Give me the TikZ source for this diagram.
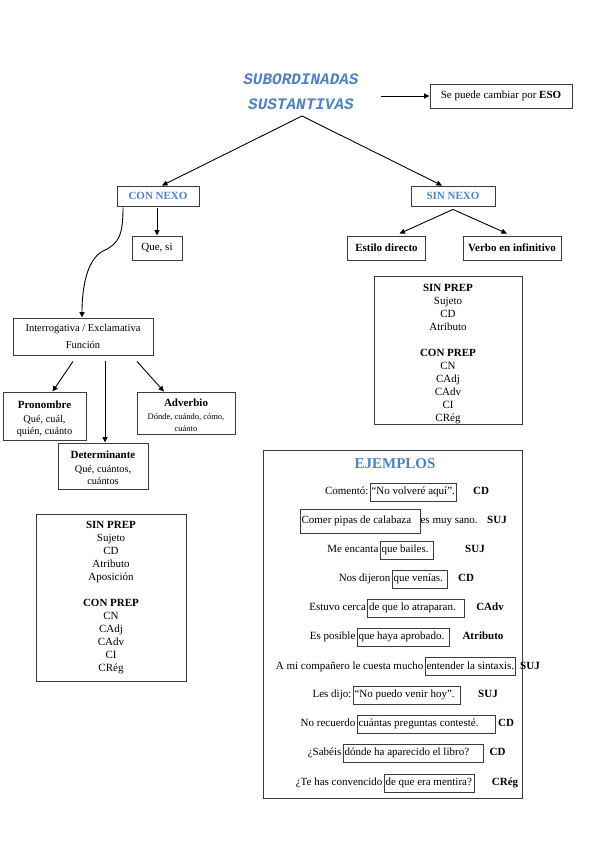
\documentclass[tikz,border=0pt]{standalone}
\usepackage{fontspec}
\setmainfont{Liberation Serif}
\newfontfamily\titlefont{Liberation Mono}
\usetikzlibrary{arrows.meta,calc}
\definecolor{tblue}{RGB}{79,129,189}
\definecolor{lgray}{RGB}{60,60,60}
\newcommand{\fA}{\fontsize{11}{14}\selectfont\bfseries}
\newcommand{\fB}{\fontsize{10.3}{12}\selectfont\mdseries}
\newcommand{\fC}{\fontsize{8.5}{10}\selectfont\mdseries}
\newcommand{\bx}[2]{\makebox[#1][l]{#2}}
\tikzset{
  box/.style={draw=lgray, line width=0.9pt, inner sep=0pt, align=center},
  arr/.style={-{Triangle[length=5.5pt,width=5pt]}, line width=0.9pt},
  txt/.style={font=\fontsize{11}{13}\selectfont},
  ex/.style={font=\fontsize{11}{12}\selectfont, inner sep=0pt},
  exbox/.style={draw=lgray, line width=0.8pt, inner xsep=1.5pt, minimum height=18pt, font=\fontsize{11}{12}\selectfont},
  lab/.style={font=\fontsize{11}{12}\selectfont\bfseries, inner sep=0pt, anchor=base}
}
\begin{document}
\begin{tikzpicture}[x=1pt,y=-1pt]
\useasboundingbox (0,0) rectangle (599,848);

% title
\node[font=\titlefont\fontsize{16}{25}\selectfont\bfseries\itshape, text=tblue, align=center, inner sep=0pt] (title) at (301,91.5) {SUBORDINADAS\\SUSTANTIVAS};
\coordinate (tb) at (302,116);
\coordinate (ta) at (381,96);

\node[box, txt, minimum width=142pt, minimum height=24pt] (eso) at (501,96) {Se puede cambiar por \textbf{ESO}};
\draw[arr] (ta) -- (eso.west);

% level 1
\node[box, txt, font=\fontsize{11}{13}\selectfont\bfseries, text=tblue, minimum width=82pt, minimum height=20pt] (cn) at (158,196) {CON NEXO};
\node[box, txt, font=\fontsize{11}{13}\selectfont\bfseries, text=tblue, minimum width=84pt, minimum height=20pt] (sn) at (453,196) {SIN NEXO};
\draw[arr] (tb) -- ([xshift=4pt]cn.north);
\draw[arr] (tb) -- ([xshift=-11pt]sn.north);

% CON NEXO branch
\node[box, txt, minimum width=50pt, minimum height=24pt] (qs) at (157,248) {Que, si};
\draw[arr] ([yshift=-2pt]qs.north |- cn.south) -- (qs.north);

\node[box, font=\fontsize{10.5}{17}\selectfont, minimum width=140pt, minimum height=37pt] (ie) at (83,336.5) {Interrogativa / Exclamativa\\Función};
\draw[arr] ([xshift=-35pt,yshift=-1pt]cn.south) .. controls (123,235) and (119,244) .. (103,251) .. controls (86,260) and (82,290) .. ([xshift=-1pt]ie.north);

\node[box, minimum width=83pt, minimum height=48pt] (pr) at (44.5,416) {};
\node[align=center, inner sep=0pt] (prt) at (44.5,418.5) {\fA Pronombre\\[2pt]\fB Qué, cuál,\\\fB quién, cuánto};
\node[box, minimum width=98pt, minimum height=42pt] (adv) at (186,413) {};
\node[align=center, inner sep=0pt] (advt) at (186,415) {\fA Adverbio\\[1.5pt]\fC Dónde, cuándo, cómo,\\\fC cuánto};
\node[box, minimum width=90pt, minimum height=46pt] (det) at (103,466) {};
\node[align=center, inner sep=0pt] (dett) at (103,467.5) {\fA Determinante\\[2pt]\fB Qué, cuántos,\\\fB cuántos};

\draw[arr] ([xshift=-10pt,yshift=-6pt]ie.south) -- ([xshift=8pt]pr.north);
\draw[arr] ([xshift=22pt,yshift=-6pt]ie.south) -- ([xshift=2pt]det.north);
\draw[arr] ([xshift=54pt,yshift=-6pt]ie.south) -- ([xshift=-22pt]adv.north);

\node[box, txt, minimum width=150pt, minimum height=167pt] (lpl) at (111,597.5) {\textbf{SIN PREP}\\Sujeto\\CD\\Atributo\\Aposición\\[12.8pt]\textbf{CON PREP}\\CN\\CAdj\\CAdv\\CI\\CRég};

% SIN NEXO branch
\node[box, txt, minimum width=78pt, minimum height=24pt] (ed) at (386.5,248) {\textbf{Estilo directo}};
\node[box, txt, minimum width=98pt, minimum height=24pt] (vi) at (512,248) {\textbf{Verbo en infinitivo}};
\draw[arr] ([yshift=-3pt]sn.south) -- ([xshift=13pt,yshift=2pt]ed.north);
\draw[arr] ([yshift=-3pt]sn.south) -- ([xshift=-5pt,yshift=2pt]vi.north);

\node[box, minimum width=148pt, minimum height=148pt] (rpl) at (448,350) {};
\node[txt, align=center, inner sep=0pt] (rplt) at (448,354) {\textbf{SIN PREP}\\Sujeto\\CD\\Atributo\\[13pt]\textbf{CON PREP}\\CN\\CAdj\\CAdv\\CI\\CRég};

% EJEMPLOS
\node[box, minimum width=259pt, minimum height=348pt] (ej) at (392.5,624) {};
\node[font=\fontsize{15}{18}\selectfont\bfseries, text=tblue, inner sep=0pt] (ejt) at (395,464) {EJEMPLOS};

% row 1
\node[exbox] (e1b) at (413,492) {\bx{83pt}{“No volveré aquí”.}};
\node[ex, anchor=base east] (e1a) at ([xshift=-1pt]e1b.base west) {Comentó:};
\node[lab] (e1l) at (481,0 |- e1b.base) {CD};
% row 2
\node[exbox, minimum height=24pt] (e2b) at (360,521) {\bx{117pt}{Comer pipas de calabaza}};
\node[ex, anchor=base west] (e2c) at (e2b.base east) {es muy sano.};
\node[lab] (e2l) at (497,0 |- e2b.base) {SUJ};
% row 3
\node[exbox] (e3b) at (406.5,550) {\bx{50pt}{que bailes.}};
\node[ex, anchor=base east] (e3a) at ([xshift=-1pt]e3b.base west) {Me encanta};
\node[lab] (e3l) at (475,0 |- e3b.base) {SUJ};
% row 4
\node[exbox] (e4b) at (419.5,579) {\bx{52pt}{que venías.}};
\node[ex, anchor=base east] (e4a) at ([xshift=-1pt]e4b.base west) {Nos dijeron};
\node[lab] (e4l) at (466,0 |- e4b.base) {CD};
% row 5
\node[exbox] (e5b) at (416,608) {\bx{94pt}{de que lo atraparan.}};
\node[ex, anchor=base east] (e5a) at ([xshift=-1pt]e5b.base west) {Estuvo cerca};
\node[lab] (e5l) at (490,0 |- e5b.base) {CAdv};
% row 6
\node[exbox] (e6b) at (403,637) {\bx{89pt}{que haya aprobado.}};
\node[ex, anchor=base east] (e6a) at ([xshift=-1pt]e6b.base west) {Es posible};
\node[lab] (e6l) at (483,0 |- e6b.base) {Atributo};
% row 7
\node[exbox] (e7b) at (470,666) {\bx{87pt}{entender la sintaxis.}};
\node[ex, anchor=base east] (e7a) at ([xshift=-1pt]e7b.base west) {A mi compañero le cuesta mucho};
\node[lab] (e7l) at (530,0 |- e7b.base) {SUJ};
% row 8
\node[exbox] (e8b) at (406.5,695) {\bx{104pt}{“No puedo venir hoy”.}};
\node[ex, anchor=base east] (e8a) at ([xshift=-1pt]e8b.base west) {Les dijo:};
\node[lab] (e8l) at (488,0 |- e8b.base) {SUJ};
% row 9
\node[exbox] (e9b) at (426,724) {\bx{135pt}{cuántas preguntas contesté.}};
\node[ex, anchor=base east] (e9a) at ([xshift=-1pt]e9b.base west) {No recuerdo};
\node[lab] (e9l) at (506,0 |- e9b.base) {CD};
% row 10
\node[exbox] (e10b) at (413,753) {\bx{137pt}{dónde ha aparecido el libro?}};
\node[ex, anchor=base east] (e10a) at ([xshift=-1pt]e10b.base west) {¿Sabéis};
\node[lab] (e10l) at (497.5,0 |- e10b.base) {CD};
% row 11
\node[exbox] (e11b) at (429,783) {\bx{87pt}{de que era mentira?}};
\node[ex, anchor=base east] (e11a) at ([xshift=-1pt]e11b.base west) {¿Te has convencido};
\node[lab] (e11l) at (505,0 |- e11b.base) {CRég};
\end{tikzpicture}
\end{document}
